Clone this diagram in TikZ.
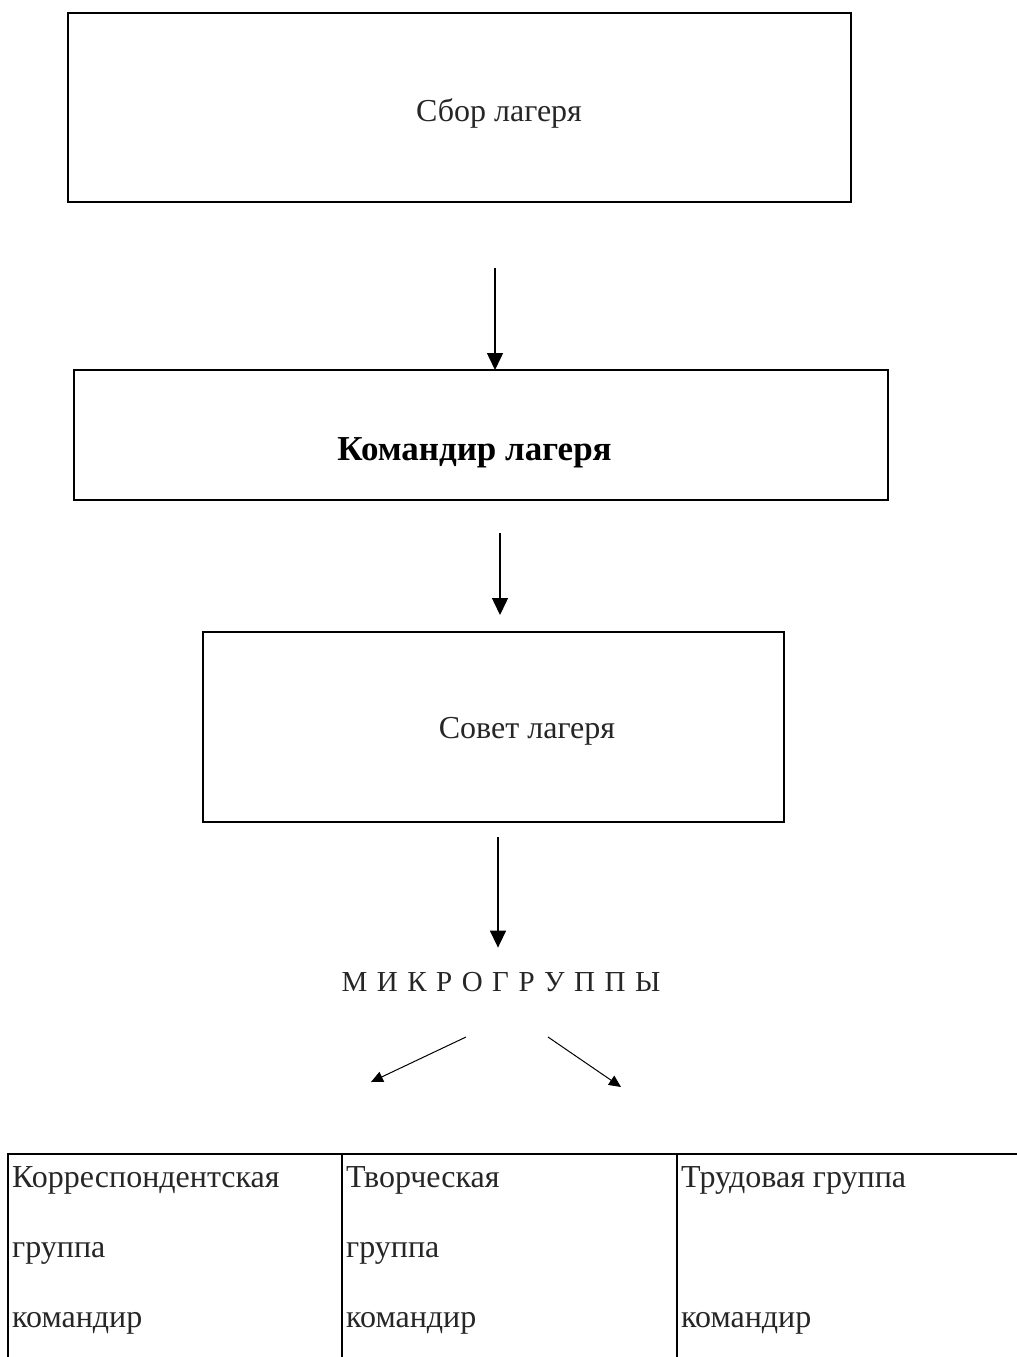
\documentclass[tikz,border=0pt]{standalone}
\usepackage{fontspec}
\setmainfont{Liberation Serif}
\usetikzlibrary{arrows.meta}
\usetikzlibrary{positioning}
\definecolor{ink}{gray}{0.15}
\tikzset{
  frame/.style={draw=black, line width=1.8pt, inner sep=0pt, outer sep=0pt},
  caption/.style={inner sep=0pt, text=ink, font=\fontsize{32}{38}\selectfont, anchor=base},
  cell/.style={inner sep=0pt, text=ink, font=\fontsize{32}{36}\selectfont, anchor=base west},
  arr/.style={line width=1.5pt, -{Triangle[width=16pt,length=17pt]}},
  thinarr/.style={line width=1pt, -{Triangle[width=11pt,length=12pt]}},
  grid/.style={line width=1.8pt},
}

\begin{document}
\begin{tikzpicture}[x=1pt,y=-1pt]
    \useasboundingbox (0,0) rectangle (1017,1357);
    % the three boxes
    \node [frame, minimum width=783pt, minimum height=189pt] (sbor) at (459.5,107.5) {};
    \node [frame, minimum width=814pt, minimum height=130pt] (komandir) at (481,435) {};
    \node [frame, minimum width=581pt, minimum height=190pt] (sovet) at (493.5,727) {};
    \node [caption] (sbortext) at (499,121) {Сбор лагеря};
    \node [caption, text=black, font=\fontsize{35}{40}\selectfont\bfseries] (komtext) at (474.5,460) {Командир лагеря};
    \node [caption] (sovettext) at (527,738) {Совет лагеря};
    \node [caption, font=\fontsize{29}{34}\selectfont] (mikro) at (501,991) {\spaceskip=9.5pt\relax М И К Р О Г Р У П П Ы};
    % arrows
    \coordinate (a1) at (495,268);
    \coordinate (a2) at (500,533);
    \coordinate (a3) at (498,837);
    \draw [arr] (a1) -- (a1 |- komandir.north);
    \draw [arr, shorten >=17pt] (a2) -- (a2 |- sovet.north);
    \draw [arr, shorten >=24pt] (a3) -- (a3 |- mikro.north);
    \coordinate (ltop) at (466,1037);
    \coordinate (rtop) at (548,1037);
    \coordinate (left) at (371,1082);
    \coordinate (right) at (621,1087);
    \draw [thinarr] (ltop) -- (left);
    \draw [thinarr] (rtop) -- (right);
    % table of groups
    \draw [grid] (1017,1154) -- (8,1154) -- (8,1357);
    \draw [grid] (342,1154) -- (342,1357);
    \draw [grid] (677,1154) -- (677,1357);
    \node [cell] (corr1) at (12,1187) {Корреспондентская};
    \node [cell] (corr2) at (12,1257) {группа};
    \node [cell] (corr3) at (12,1327) {командир};
    \node [cell] (tvor1) at (346,1187) {Творческая};
    \node [cell] (tvor2) at (346,1257) {группа};
    \node [cell] (tvor3) at (346,1327) {командир};
    \node [cell] (trud1) at (681,1187) {Трудовая группа};
    \node [cell] (trud3) at (681,1327) {командир};
\end{tikzpicture}
\end{document}
